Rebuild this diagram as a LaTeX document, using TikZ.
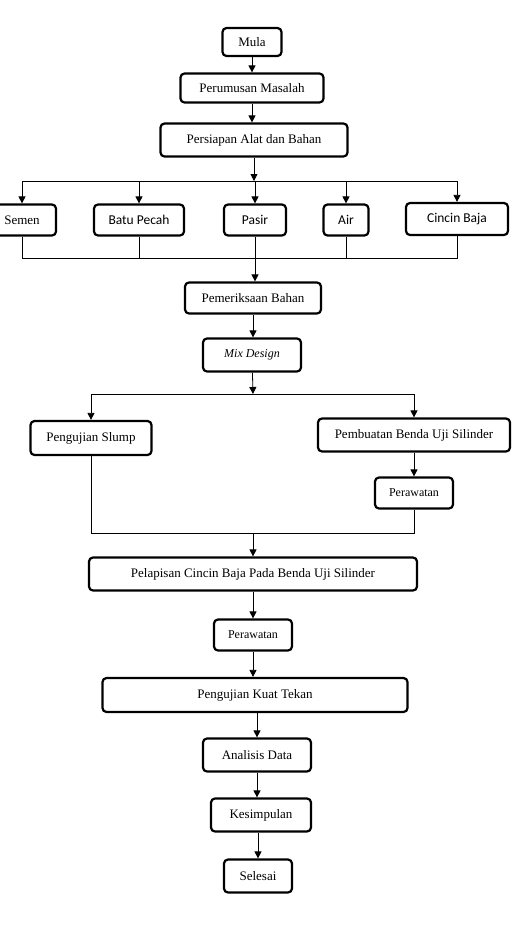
\documentclass[tikz,border=0pt]{standalone}
\usepackage{fontspec}
\setmainfont{Liberation Serif}
\newfontfamily\calfont{Carlito}
\usetikzlibrary{positioning, arrows.meta}

\begin{document}
\begin{tikzpicture}[x=1pt, y=-1pt, font=\fontsize{13}{15}\selectfont,
	box/.style={draw, line width=2.2pt, rounded corners=4pt, inner sep=0pt, align=center},
	small/.style={font=\fontsize{12}{14}\selectfont},
	sans/.style={font=\calfont\fontsize{13.5}{16}\selectfont},
	line/.style={line width=0.8pt},
	arr/.style={line, -{Triangle[length=7pt,width=7pt]}}]
	\useasboundingbox (0,0) rectangle (518,927);
	% alur atas
	\node[box, minimum width=59, minimum height=28] (mula) at (252,42) {Mula};
	\node[box, minimum width=143, minimum height=29] (rumus) at (252,88) {Perumusan Masalah};
	\node[box, minimum width=187, minimum height=33] (siap) at (254,140) {Persiapan Alat dan Bahan};
	% bahan
	\node[box, minimum width=68, minimum height=31] (semen) at (22,220) {Semen};
	\node[box, sans, minimum width=90, minimum height=31] (batu) at (139,220) {Batu Pecah};
	\node[box, sans, minimum width=62, minimum height=31] (pasir) at (255,220) {Pasir};
	\node[box, sans, minimum width=45, minimum height=31] (air) at (346,220) {Air};
	\node[box, sans, minimum width=102, minimum height=32] (cincin) at (457,219) {Cincin Baja};
	\node[box, minimum width=136, minimum height=31] (periksa) at (253,298) {Pemeriksaan Bahan};
	\node[box, small, minimum width=98, minimum height=33] (mix) at (252,355) {\textit{Mix Design}};
	% dua cabang
	\node[box, minimum width=121, minimum height=34] (slump) at (91,438) {Pengujian Slump};
	\node[box, minimum width=192, minimum height=33] (buat) at (414,435) {Pembuatan Benda Uji Silinder};
	\node[box, small, minimum width=78, minimum height=31] (rawat1) at (414,493) {Perawatan};
	% alur bawah
	\node[box, minimum width=328, minimum height=33] (lapis) at (253,574) {Pelapisan Cincin Baja Pada Benda Uji Silinder};
	\node[box, small, minimum width=78, minimum height=31] (rawat2) at (253,635) {Perawatan};
	\node[box, minimum width=305, minimum height=34] (tekan) at (255,695) {Pengujian Kuat Tekan};
	\node[box, minimum width=108, minimum height=33] (analisis) at (257,755) {Analisis Data};
	\node[box, minimum width=100, minimum height=33] (simpul) at (261,815) {Kesimpulan};
	\node[box, minimum width=68, minimum height=33] (selesai) at (258,876) {Selesai};
	\coordinate (cabang1) at (254,181);
	\coordinate (gabung1) at (255,258);
	\coordinate (cabang2) at (253,394);
	\coordinate (gabung2) at (253,533);
	% panah
	\draw[arr] (mula) -- (rumus);
	\draw[arr] (rumus.south) -- (rumus.south |- siap.north);
	\draw[arr] (siap) -- (cabang1);
	\foreach \b in {semen, batu, pasir, air, cincin}
		\draw[arr] (cabang1) -| (\b.north);
	\foreach \b in {semen, batu, air, cincin}
		\draw[line] (\b.south) |- (gabung1);
	\draw[arr] (pasir.south) -- (pasir.south |- periksa.north);
	\draw[arr] (periksa.south) -- (periksa.south |- mix.north);
	\draw[arr] (mix) -- (cabang2);
	\draw[arr] (cabang2) -| (slump.north);
	\draw[arr] (cabang2) -| (buat.north);
	\draw[arr] (buat) -- (rawat1);
	\draw[line] (slump.south) |- (gabung2);
	\draw[line] (rawat1.south) |- (gabung2);
	\draw[arr] (gabung2) -- (lapis);
	\draw[arr] (lapis) -- (rawat2);
	\draw[arr] (rawat2.south) -- (rawat2.south |- tekan.north);
	\draw[arr] (analisis.north |- tekan.south) -- (analisis.north);
	\draw[arr] (analisis.south) -- (analisis.south |- simpul.north);
	\draw[arr] (selesai.north |- simpul.south) -- (selesai.north);
\end{tikzpicture}
\end{document}
